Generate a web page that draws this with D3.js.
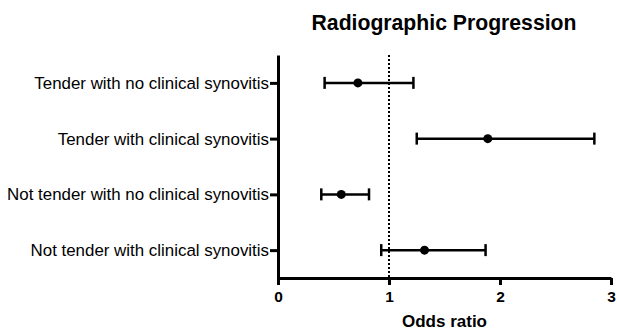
<!DOCTYPE html>
<html>
<head>
<meta charset="utf-8">
<script src="https://cdn.jsdelivr.net/npm/d3@7"></script>
<style>
  body { margin: 0; background: #fff; }
  svg { font-family: "Liberation Sans", Arial, sans-serif; }
</style>
</head>
<body>
<svg id="chart" width="617" height="331"></svg>
<script>
// data
const categories = [
  'Tender with no clinical synovitis',
  'Tender with clinical synovitis',
  'Not tender with no clinical synovitis',
  'Not tender with clinical synovitis'
];
const oddsRatio = [0.72, 1.89, 0.57, 1.32];
const ciLower = [0.42, 1.25, 0.39, 0.93];
const ciUpper = [1.22, 2.85, 0.82, 1.87];
const xTicks = [0, 1, 2, 3];

const rows = categories.map((c, i) => ({
  name: c, or: oddsRatio[i], lo: ciLower[i], hi: ciUpper[i]
}));

const svg = d3.select('#chart');
const plotLeft = 278, plotRight = 611, plotTop = 55, plotBottom = 278;

const x = d3.scaleLinear().domain([0, 3]).range([plotLeft, plotRight]);
const y = d3.scalePoint().domain(categories).range([plotTop, plotBottom]).padding(0.5);

// title
svg.append('text')
    .attr('x', 444)
    .attr('y', 30)
    .attr('text-anchor', 'middle')
    .style('font-size', '21.2px')
    .style('font-weight', 'bold')
    .text('Radiographic Progression');

// reference line at OR = 1
svg.append('line')
    .attr('x1', x(1)).attr('x2', x(1))
    .attr('y1', plotTop).attr('y2', plotBottom)
    .attr('stroke', '#000')
    .attr('stroke-width', 2)
    .attr('stroke-dasharray', '2,2');

// x axis
let gx = svg.append('g')
    .attr('transform', `translate(0 ${plotBottom})`)
    .call(d3.axisBottom(x).tickValues(xTicks).tickFormat(d3.format('d')).tickSize(7).tickSizeOuter(0).tickPadding(6));
gx.select('.domain').attr('stroke-width', 3);
gx.selectAll('.tick line').attr('stroke-width', 3);
gx.selectAll('.tick text')
    .attr('fill', '#000')
    .style('font-size', '15.5px')
    .style('font-weight', 'bold')
    .style('font-family', '"Liberation Sans", Arial, sans-serif');

// y axis
let gy = svg.append('g')
    .attr('transform', `translate(${plotLeft} 0)`)
    .call(d3.axisLeft(y).tickSize(8).tickSizeOuter(0).tickPadding(1));
gy.select('.domain').attr('stroke-width', 3);
gy.selectAll('.tick line').attr('stroke-width', 3);
gy.selectAll('.tick text')
    .attr('fill', '#000')
    .style('font-size', '16.9px')
    .style('font-family', '"Liberation Sans", Arial, sans-serif');

// x axis title
svg.append('text')
    .attr('x', (plotLeft + plotRight) / 2)
    .attr('y', 327)
    .attr('text-anchor', 'middle')
    .style('font-size', '17px')
    .style('font-weight', 'bold')
    .text('Odds ratio');

// error bars
let g = svg.selectAll('g.row')
    .data(rows)
    .enter()
    .append('g')
    .classed('row', true)
    .attr('transform', d => `translate(0 ${y(d.name)})`);

g.append('line')
    .attr('x1', d => x(d.lo))
    .attr('x2', d => x(d.hi))
    .attr('stroke', '#000')
    .attr('stroke-width', 2.5);

g.append('line')
    .attr('x1', d => x(d.lo)).attr('x2', d => x(d.lo))
    .attr('y1', -6).attr('y2', 6)
    .attr('stroke', '#000')
    .attr('stroke-width', 2.5);

g.append('line')
    .attr('x1', d => x(d.hi)).attr('x2', d => x(d.hi))
    .attr('y1', -6).attr('y2', 6)
    .attr('stroke', '#000')
    .attr('stroke-width', 2.5);

g.append('circle')
    .attr('cx', d => x(d.or))
    .attr('r', 4.5)
    .attr('fill', '#000');
</script>
</body>
</html>
